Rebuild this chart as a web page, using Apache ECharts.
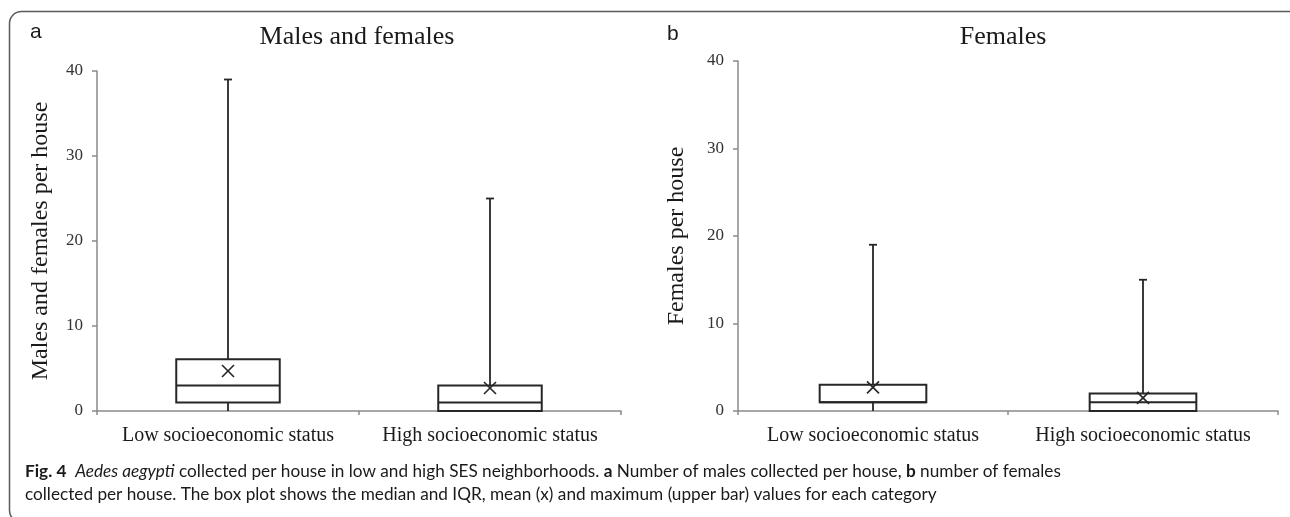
<!DOCTYPE html>
<html>
<head>
<meta charset="utf-8">
<script src="https://cdn.jsdelivr.net/npm/echarts@6/dist/echarts.min.js"></script>
<style>
html,body{margin:0;padding:0;background:#fff;}
#chart{width:1290px;height:517px;}
</style>
</head>
<body>
<div id="chart"></div>
<script>
// ---- data ----
const categories = ['Low socioeconomic status', 'High socioeconomic status'];
const yTicks = [0, 10, 20, 30, 40];

// Panel a: males and females per house
const aMin = [0, 0];
const aQ1 = [1, 0];
const aMedian = [3, 1];
const aQ3 = [6.1, 3];
const aMax = [39, 25];
const aMean = [4.7, 2.7];

// Panel b: females per house
const bMin = [0, 0];
const bQ1 = [1, 0];
const bMedian = [1, 1];
const bQ3 = [3, 2];
const bMax = [19, 15];
const bMean = [2.7, 1.5];

const panelTitles = ['Males and females', 'Females'];
const panelLetters = ['a', 'b'];
const yNames = ['Males and females per house', 'Females per house'];

function build(mins, q1s, meds, q3s, maxs, means) {
  return categories.map((c, i) => [i, mins[i], q1s[i], meds[i], q3s[i], maxs[i], means[i]]);
}

const STROKE = '#262626';
const AXIS = '#8a8a8a';
const SERIF = '"Liberation Serif", "Times New Roman", serif';
const CAP_FONT = 'Lato, sans-serif';
const CAP_SIZE = 17.2;

function renderBox(params, api) {
  const i = api.value(0);
  const vMin = api.value(1), vQ1 = api.value(2), vMed = api.value(3),
        vQ3 = api.value(4), vMax = api.value(5), vMean = api.value(6);
  const cx = api.coord([i, vQ1])[0];
  const bw = api.size([1, 0])[0] * 0.395;
  const y = v => api.coord([i, v])[1];
  const yMin = y(vMin), yQ1 = y(vQ1), yMed = y(vMed), yQ3 = y(vQ3), yMax = y(vMax), yMean = y(vMean);
  const ls = { stroke: STROKE, lineWidth: 1.8, fill: null };
  const cap = 4;
  const m = 6;
  return {
    type: 'group',
    children: [
      { type: 'line', shape: { x1: cx, y1: yQ3, x2: cx, y2: yMax }, style: ls },
      { type: 'line', shape: { x1: cx - cap, y1: yMax, x2: cx + cap, y2: yMax }, style: ls },
      { type: 'line', shape: { x1: cx, y1: yQ1, x2: cx, y2: yMin }, style: ls },
      { type: 'rect', shape: { x: cx - bw / 2, y: yQ3, width: bw, height: yQ1 - yQ3 },
        style: { stroke: STROKE, lineWidth: 2, fill: '#fff' } },
      { type: 'line', shape: { x1: cx - bw / 2, y1: yMed, x2: cx + bw / 2, y2: yMed }, style: { stroke: STROKE, lineWidth: 2 } },
      { type: 'line', shape: { x1: cx - m, y1: yMean - m, x2: cx + m, y2: yMean + m }, style: { stroke: STROKE, lineWidth: 1.6 } },
      { type: 'line', shape: { x1: cx - m, y1: yMean + m, x2: cx + m, y2: yMean - m }, style: { stroke: STROKE, lineWidth: 1.6 } }
    ]
  };
}

function yAxisCfg(idx, name, gap) {
  return {
    type: 'value', gridIndex: idx, min: yTicks[0], max: yTicks[yTicks.length - 1], interval: 10,
    name: name, nameLocation: 'middle', nameRotate: 90, nameGap: gap,
    nameTextStyle: { fontFamily: SERIF, fontSize: 24, color: '#1a1a1a' },
    axisLine: { show: true, lineStyle: { color: AXIS, width: 1.5 } },
    axisTick: { show: true, length: 5, lineStyle: { color: AXIS, width: 1.5 } },
    splitLine: { show: false },
    axisLabel: { fontFamily: SERIF, fontSize: 17, color: '#333', margin: 14 }
  };
}
function xAxisCfg(idx) {
  return {
    type: 'category', gridIndex: idx, data: categories, boundaryGap: true,
    axisLine: { show: true, lineStyle: { color: AXIS, width: 1.5 } },
    axisTick: { show: true, length: 4, lineStyle: { color: AXIS, width: 1.5 } },
    axisLabel: { fontFamily: SERIF, fontSize: 20, color: '#1a1a1a', margin: 15, interval: 0 }
  };
}

const chart = echarts.init(document.getElementById('chart'), null, { renderer: 'canvas' });
chart.setOption({
  animation: false,
  backgroundColor: '#fff',
  title: [
    { text: panelTitles[0], left: 357, top: 24, textAlign: 'center', padding: 0,
      textStyle: { fontFamily: SERIF, fontSize: 26, fontWeight: 'normal', color: '#1a1a1a' } },
    { text: panelTitles[1], left: 1003, top: 24, textAlign: 'center', padding: 0,
      textStyle: { fontFamily: SERIF, fontSize: 26, fontWeight: 'normal', color: '#1a1a1a' } },
    { text: panelLetters[0], left: 30, top: 22, padding: 0,
      textStyle: { fontFamily: '"Liberation Sans", Arial, sans-serif', fontSize: 21, fontWeight: 'normal', color: '#1a1a1a' } },
    { text: panelLetters[1], left: 667, top: 24, padding: 0,
      textStyle: { fontFamily: '"Liberation Sans", Arial, sans-serif', fontSize: 21, fontWeight: 'normal', color: '#1a1a1a' } }
  ],
  grid: [
    { left: 97, top: 71, width: 524, height: 340 },
    { left: 738, top: 61, width: 540, height: 350 }
  ],
  xAxis: [xAxisCfg(0), xAxisCfg(1)],
  yAxis: [yAxisCfg(0, yNames[0], 44), yAxisCfg(1, yNames[1], 49)],
  series: [
    { type: 'custom', xAxisIndex: 0, yAxisIndex: 0, renderItem: renderBox,
      data: build(aMin, aQ1, aMedian, aQ3, aMax, aMean), z: 3 },
    { type: 'custom', xAxisIndex: 1, yAxisIndex: 1, renderItem: renderBox,
      data: build(bMin, bQ1, bMedian, bQ3, bMax, bMean), z: 3 }
  ],
  graphic: [
    { type: 'rect', silent: true, z: 0,
      shape: { x: 9.5, y: 11.5, width: 1292, height: 511, r: 12 },
      style: { stroke: '#5a5a5a', lineWidth: 1.5, fill: null } },
    { type: 'text', left: 25, top: 463, silent: true,
      style: {
        text: '{b|Fig. 4}  {i|Aedes aegypti}{n| collected per house in low and high SES neighborhoods. }{b|a}{n| Number of males collected per house, }{b|b}{n| number of females}',
        fontFamily: CAP_FONT, fontSize: CAP_SIZE, fill: '#1a1a1a',
        rich: {
          b: { fontFamily: CAP_FONT, fontSize: CAP_SIZE, fontWeight: 'bold', fill: '#1a1a1a' },
          i: { fontFamily: CAP_FONT, fontSize: CAP_SIZE, fontStyle: 'italic', fill: '#1a1a1a' },
          n: { fontFamily: CAP_FONT, fontSize: CAP_SIZE, fill: '#1a1a1a' }
        }
      } },
    { type: 'text', left: 25, top: 486, silent: true,
      style: {
        text: 'collected per house. The box plot shows the median and IQR, mean (x) and maximum (upper bar) values for each category',
        fontFamily: CAP_FONT, fontSize: CAP_SIZE, fill: '#1a1a1a'
      } }
  ]
});
</script>
</body>
</html>
